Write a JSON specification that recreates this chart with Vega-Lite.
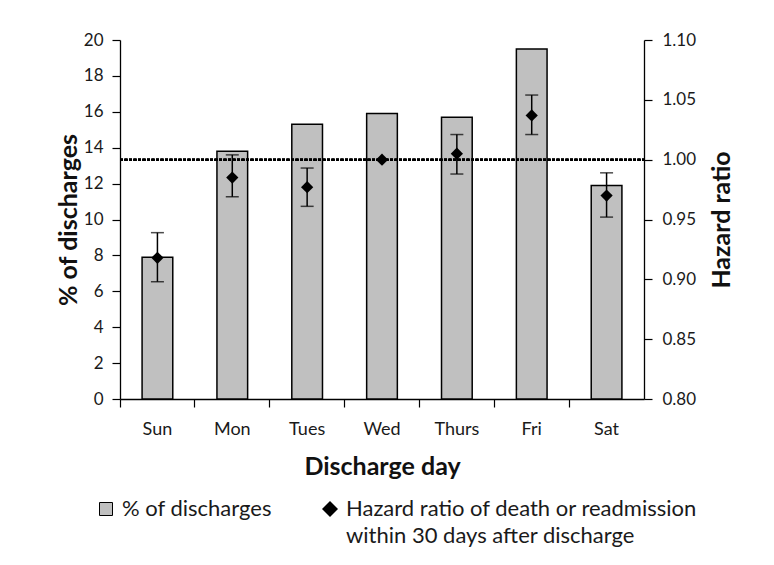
{
  "$schema": "https://vega.github.io/schema/vega-lite/v6.json",
  "width": 524,
  "height": 359,
  "autosize": "none",
  "padding": {"left": 120, "top": 40, "right": 130, "bottom": 166},
  "background": "white",
  "config": {
    "font": "Lato",
    "view": {"stroke": null},
    "axis": {"domainColor": "black", "domainWidth": 1.3, "tickColor": "black", "tickWidth": 1.2, "tickSize": 8, "labelColor": "#1a1a1a", "titleColor": "#111", "grid": false, "labelFont": "Lato", "titleFont": "Lato", "titleFontWeight": "bold"}
  },
  "data": {
    "values": [
      {"day": "Sun", "pct": 7.9, "hr": 0.918, "lo": 0.898, "hi": 0.939},
      {"day": "Mon", "pct": 13.8, "hr": 0.985, "lo": 0.969, "hi": 1.004},
      {"day": "Tues", "pct": 15.3, "hr": 0.977, "lo": 0.961, "hi": 0.993},
      {"day": "Wed", "pct": 15.9, "hr": 1.0, "lo": null, "hi": null},
      {"day": "Thurs", "pct": 15.7, "hr": 1.005, "lo": 0.988, "hi": 1.021},
      {"day": "Fri", "pct": 19.5, "hr": 1.037, "lo": 1.021, "hi": 1.054},
      {"day": "Sat", "pct": 11.9, "hr": 0.970, "lo": 0.952, "hi": 0.989}
    ]
  },
  "encoding": {
    "x": {
      "field": "day", "type": "nominal", "sort": null,
      "scale": {"paddingInner": 0, "paddingOuter": 0},
      "axis": {"title": "Discharge day", "labelAngle": 0, "bandPosition": 0, "labelFontSize": 18, "labelPadding": 13, "titleFontSize": 25, "titlePadding": 16}
    }
  },
  "layer": [
    {
      "mark": {"type": "bar", "width": {"band": 0.41}, "stroke": "black", "strokeWidth": 1.5},
      "encoding": {
        "y": {
          "field": "pct", "type": "quantitative",
          "scale": {"domain": [0, 20], "nice": false},
          "axis": {"title": "% of discharges", "values": [0, 2, 4, 6, 8, 10, 12, 14, 16, 18, 20], "labelFontSize": 17, "labelPadding": 9, "titleFontSize": 25, "titlePadding": 2}
        },
        "fill": {
          "datum": "% of discharges",
          "scale": {"domain": ["% of discharges", "Hazard ratio of death or readmission within 30 days after discharge"], "range": ["#c0c0c0", "black"]},
          "legend": {
            "title": null, "orient": "none", "legendX": -25, "legendY": 458,
            "direction": "horizontal", "columns": 2, "columnPadding": 47,
            "labelFontSize": 22, "labelColor": "#1a1a1a", "labelLimit": 500, "labelOffset": 5,
            "symbolStrokeColor": "black", "symbolStrokeWidth": 1,
            "labelExpr": "datum.value === '% of discharges' ? ['% of discharges', ''] : ['Hazard ratio of death or readmission', 'within 30 days after discharge']",
            "encode": {
              "symbols": {"update": {
                "shape": {"signal": "datum.value === '% of discharges' ? 'square' : 'diamond'"},
                "size": {"signal": "datum.value === '% of discharges' ? 169 : 256"},
                "stroke": {"signal": "datum.value === '% of discharges' ? 'black' : 'transparent'"}
              }},
              "labels": {"update": {
                "lineHeight": {"value": 27}
              }}
            }
          }
        }
      }
    },
    {
      "mark": {"type": "rule", "strokeDash": [3, 1.5], "strokeWidth": 2, "color": "black"},
      "encoding": {
        "x": {"value": 0},
        "x2": {"value": 524},
        "y": {"datum": 1.0, "type": "quantitative", "scale": {"domain": [0.8, 1.1], "nice": false}, "axis": null}
      }
    },
    {
      "mark": {"type": "rule", "color": "black", "strokeWidth": 1.5},
      "encoding": {
        "y": {"field": "lo", "type": "quantitative", "scale": {"domain": [0.8, 1.1], "nice": false}, "axis": null},
        "y2": {"field": "hi"}
      }
    },
    {
      "mark": {"type": "tick", "color": "black", "size": 13, "thickness": 1.5},
      "encoding": {
        "y": {"field": "lo", "type": "quantitative", "scale": {"domain": [0.8, 1.1], "nice": false}, "axis": null}
      }
    },
    {
      "mark": {"type": "tick", "color": "black", "size": 13, "thickness": 1.5},
      "encoding": {
        "y": {"field": "hi", "type": "quantitative", "scale": {"domain": [0.8, 1.1], "nice": false}, "axis": null}
      }
    },
    {
      "mark": {"type": "point", "shape": "diamond", "filled": true, "size": 150, "opacity": 1},
      "encoding": {
        "y": {
          "field": "hr", "type": "quantitative",
          "scale": {"domain": [0.8, 1.1], "nice": false},
          "axis": {"orient": "right", "title": "Hazard ratio", "format": ".2f", "values": [0.8, 0.85, 0.9, 0.95, 1.0, 1.05, 1.1], "labelFontSize": 17, "labelPadding": 10, "titleFontSize": 25, "titleAngle": 270, "titleBaseline": "top", "titlePadding": 14}
        },
        "fill": {"datum": "Hazard ratio of death or readmission within 30 days after discharge"}
      }
    }
  ],
  "resolve": {"scale": {"y": "independent"}}
}
